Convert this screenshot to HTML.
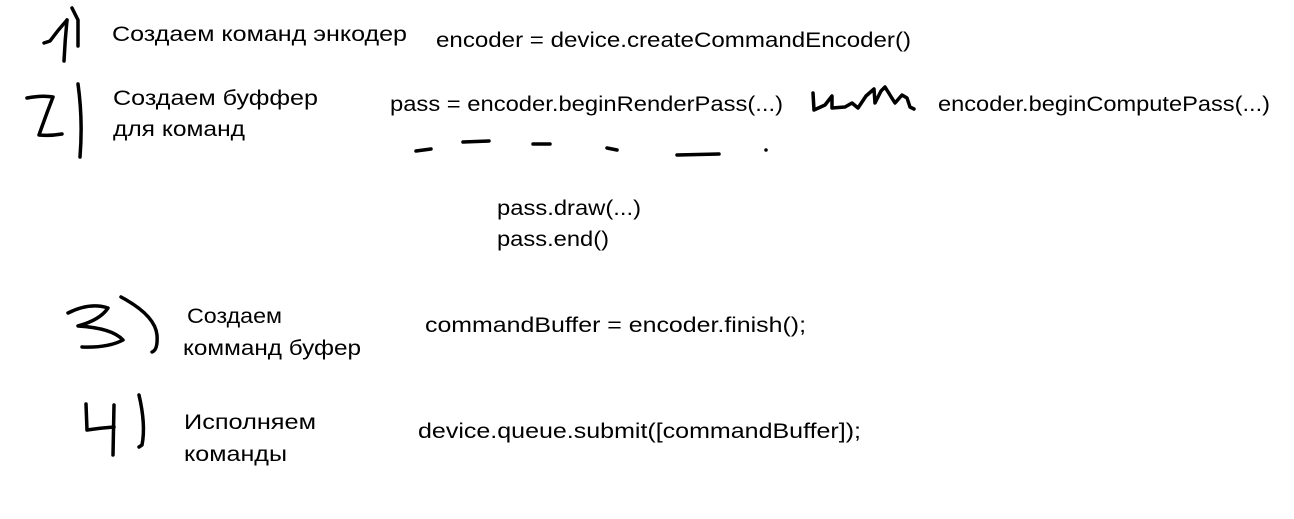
<!DOCTYPE html>
<html><head><meta charset="utf-8"><style>
html,body{margin:0;padding:0;background:#fff;}
svg{display:block;}
text{font-family:"Liberation Sans","DejaVu Sans",sans-serif;font-size:21px;fill:#000;}
path{fill:none;stroke:#000;stroke-width:3.5;stroke-linecap:round;stroke-linejoin:round;}
</style></head><body>
<svg width="1294" height="519" viewBox="0 0 1294 519" xmlns="http://www.w3.org/2000/svg">
<!-- 1) -->
<path d="M44,43 L50,41 Q58,30 67,20"/>
<path d="M67,20 Q65,40 64,61"/>
<path d="M72,8 L78,20 L78,46"/>
<text x="112" y="41" textLength="295" lengthAdjust="spacingAndGlyphs">Создаем  команд энкодер</text>
<text x="436" y="47" textLength="475" lengthAdjust="spacingAndGlyphs">encoder = device.createCommandEncoder()</text>
<!-- 2) -->
<path d="M27,98 Q42,95 53,97 Q46,115 39,135 Q50,136 62,134"/>
<path d="M78,84 Q83,120 80,157"/>
<text x="113" y="105" textLength="205" lengthAdjust="spacingAndGlyphs">Создаем  буффер</text>
<text x="113" y="136" textLength="132" lengthAdjust="spacingAndGlyphs">для команд</text>
<text x="390" y="111" textLength="393" lengthAdjust="spacingAndGlyphs">pass = encoder.beginRenderPass(...)</text>
<path d="M813,93 L814,110 L825,105 L832,96 L832,108 L845,107 L852,103 L858,108 L866,96 L874,89 L875,103 L881,91 L885,87 L890,95 L895,103 L902,95 L907,98 L910,107 L914,109"/>
<text x="938" y="111" textLength="332" lengthAdjust="spacingAndGlyphs">encoder.beginComputePass(...)</text>
<path d="M416,151 L431,149"/>
<path d="M463,142 L489,141"/>
<path d="M533,144 L550,144"/>
<path d="M607,148 L617,150"/>
<path d="M677,155 L719,154"/>
<path d="M766,150 L766,150"/>
<text x="497" y="215" textLength="144" lengthAdjust="spacingAndGlyphs">pass.draw(...)</text>
<text x="497" y="246" textLength="112" lengthAdjust="spacingAndGlyphs">pass.end()</text>
<!-- 3) -->
<path d="M68,313 Q90,302 108,308 Q100,320 78,326 Q112,328 123,340 Q108,348 82,347"/>
<path d="M121,297 Q155,315 157,335 Q158,350 152,352"/>
<text x="187" y="323" textLength="95" lengthAdjust="spacingAndGlyphs">Создаем</text>
<text x="183" y="355" textLength="178" lengthAdjust="spacingAndGlyphs">комманд буфер</text>
<text x="425" y="332" textLength="381" lengthAdjust="spacingAndGlyphs">commandBuffer = encoder.finish();</text>
<!-- 4) -->
<path d="M86,404 L87,430 Q100,428 114,427"/>
<path d="M114,405 L113,455"/>
<path d="M139,395 Q146,425 142,445 L139,447"/>
<text x="184" y="429" textLength="132" lengthAdjust="spacingAndGlyphs">Исполняем</text>
<text x="184" y="461" textLength="103" lengthAdjust="spacingAndGlyphs">команды</text>
<text x="418" y="438" textLength="443" lengthAdjust="spacingAndGlyphs">device.queue.submit([commandBuffer]);</text>
</svg>
</body></html>
